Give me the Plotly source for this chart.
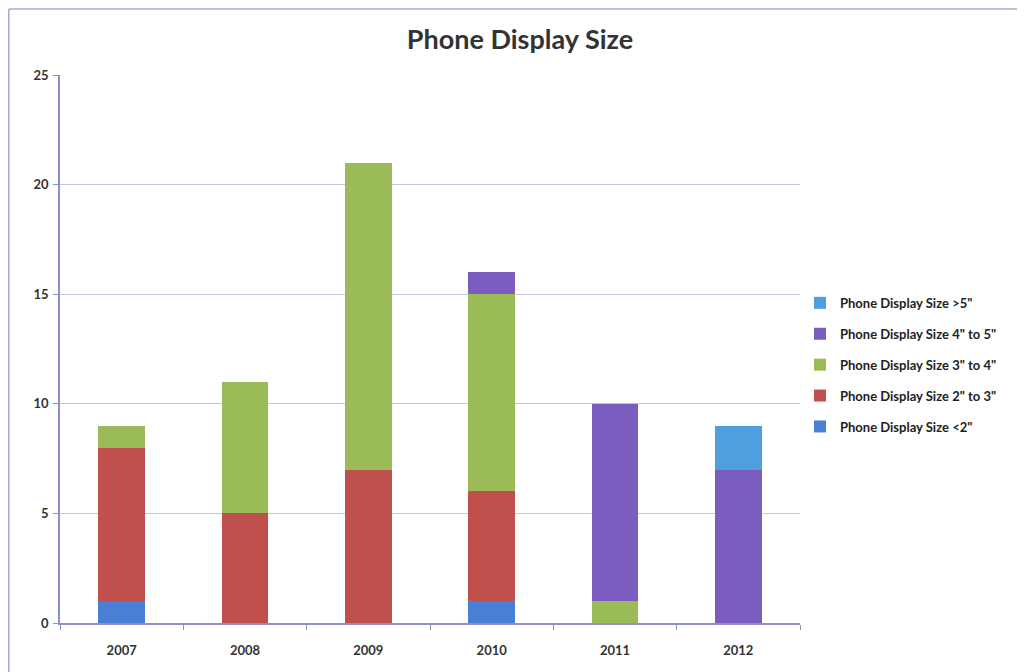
import plotly.graph_objects as go

years = ["2007", "2008", "2009", "2010", "2011", "2012"]
size_lt2 = [1, 0, 0, 1, 0, 0]
size_2to3 = [7, 5, 7, 5, 0, 0]
size_3to4 = [1, 6, 14, 9, 1, 0]
size_4to5 = [0, 0, 0, 1, 9, 7]
size_gt5 = [0, 0, 0, 0, 0, 2]

series = [
    ('Phone Display Size <2"', size_lt2, "#4A7FD6"),
    ('Phone Display Size 2" to 3"', size_2to3, "#C0504D"),
    ('Phone Display Size 3" to 4"', size_3to4, "#9BBB59"),
    ('Phone Display Size 4" to 5"', size_4to5, "#7B5CBF"),
    ('Phone Display Size >5"', size_gt5, "#4F9FE0"),
]

fig = go.Figure()
n = len(series)
for i, (name, vals, color) in enumerate(series):
    fig.add_trace(go.Bar(x=years, y=vals, name=f"<b>{name}</b>", marker_color=color,
                         marker_line_width=0, width=0.38, legendgroup=f"g{i}",
                         legendrank=(n - i) * 10))

FAM = "Lato, Open Sans, sans-serif"
# page body has an 8px offset; margins compensate so the plot lands at x 60..800, y 75..623
fig.update_layout(
    width=1025, height=672,
    barmode="stack",
    plot_bgcolor="white", paper_bgcolor="white",
    margin=dict(l=52, r=233, t=67, b=57),
    title=dict(text="<b>Phone Display Size</b>", x=0.4995, xref="container",
               y=0.953, yref="container", xanchor="center", yanchor="middle",
               font=dict(size=27, family=FAM, color="#333333")),
    font=dict(size=13, family=FAM, color="#333333"),
    legend=dict(traceorder="grouped", x=1.0, xanchor="left", y=0.471, yanchor="middle",
                font=dict(size=13, family=FAM, color="#222222"),
                itemwidth=30, tracegroupgap=11, bgcolor="rgba(0,0,0,0)"),
    showlegend=True,
)
fig.update_xaxes(showline=True, linecolor="#8C90C4", linewidth=1.5, ticks="outside",
                 tickson="boundaries", ticklen=5, tickcolor="#8C90C4",
                 ticklabelstandoff=15,
                 tickfont=dict(size=13, family=FAM, color="#333333"),
                 tickprefix="<b>", ticksuffix="</b>")
fig.update_yaxes(range=[0, 25], dtick=5, showline=True, linecolor="#8C90C4", linewidth=1.5,
                 gridcolor="#C4C6DE", gridwidth=1, ticks="outside", ticklen=5,
                 tickcolor="#8C90C4", zeroline=False, ticklabelstandoff=2,
                 tickfont=dict(size=13, family=FAM, color="#333333"),
                 tickprefix="<b>", ticksuffix="</b>")
# outer chart frame (left and top edges)
fx0 = (0.8 - 52) / 740
fy1 = (615 - 1) / 548
fig.add_shape(type="line", xref="paper", yref="paper", x0=fx0, x1=fx0, y0=-0.2, y1=fy1,
              line=dict(color="#A6ABCB", width=1.5), layer="below")
fig.add_shape(type="line", xref="paper", yref="paper", x0=fx0, x1=1.5, y0=fy1, y1=fy1,
              line=dict(color="#A6ABCB", width=1.5), layer="below")
fig.write_html("out.html")
